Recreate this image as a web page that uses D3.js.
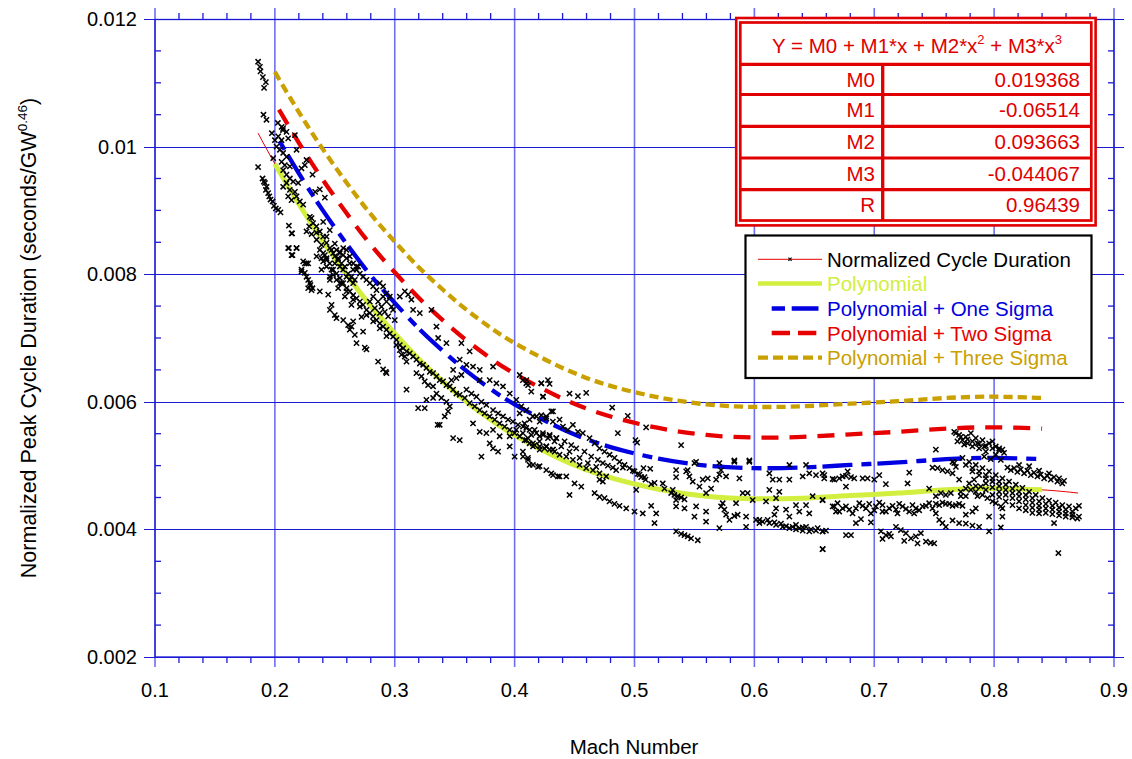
<!DOCTYPE html>
<html>
<head>
<meta charset="utf-8">
<script src="https://cdn.jsdelivr.net/npm/d3@7"></script>
<style>
body { margin: 0; background: #fff; }
svg { display: block; font-family: "Liberation Sans", Arial, sans-serif; }
</style>
</head>
<body>
<svg width="1132" height="759"></svg>
<script>
// tick values
var xTicks = [0.1, 0.2, 0.3, 0.4, 0.5, 0.6, 0.7, 0.8, 0.9];
var yTicks = [0.002, 0.004, 0.006, 0.008, 0.01, 0.012];

// fit table
var coefNames = ["M0", "M1", "M2", "M3", "R"];
var coefValues = ["0.019368", "-0.06514", "0.093663", "-0.044067", "0.96439"];

// red thin fit line over the whole data range
var fitMach = [0.186, 0.2, 0.22, 0.24, 0.26, 0.28, 0.30, 0.32, 0.34, 0.36, 0.38, 0.40, 0.44, 0.48, 0.52, 0.56, 0.60, 0.64, 0.68, 0.72, 0.76, 0.80, 0.84, 0.87];
var fitDur = [0.01021, 0.00973, 0.00910, 0.00852, 0.00799, 0.00750, 0.00707, 0.00667, 0.00632, 0.00600, 0.00572, 0.00548, 0.00509, 0.00481, 0.00463, 0.00452, 0.00448, 0.00449, 0.00453, 0.00457, 0.00462, 0.00464, 0.00462, 0.00457];

// polynomial and sigma curves
var curveMach = [0.2, 0.22, 0.24, 0.26, 0.28, 0.30, 0.32, 0.34, 0.36, 0.38, 0.40, 0.44, 0.48, 0.52, 0.56, 0.60, 0.64, 0.68, 0.72, 0.76, 0.80, 0.84];
var polyDur = [0.00973, 0.00910, 0.00852, 0.00799, 0.00750, 0.00707, 0.00667, 0.00632, 0.00600, 0.00572, 0.00548, 0.00509, 0.00481, 0.00463, 0.00452, 0.00448, 0.00449, 0.00453, 0.00457, 0.00462, 0.00464, 0.00462];
var sigma1Dur = [0.01021, 0.00958, 0.00900, 0.00847, 0.00798, 0.00755, 0.00715, 0.00680, 0.00648, 0.00620, 0.00596, 0.00557, 0.00529, 0.00511, 0.00500, 0.00496, 0.00497, 0.00501, 0.00505, 0.00510, 0.00512, 0.00510];
var sigma2Dur = [0.01069, 0.01006, 0.00948, 0.00895, 0.00846, 0.00803, 0.00763, 0.00728, 0.00696, 0.00668, 0.00644, 0.00605, 0.00577, 0.00559, 0.00548, 0.00544, 0.00545, 0.00549, 0.00553, 0.00558, 0.00560, 0.00558];
var sigma3Dur = [0.01117, 0.01054, 0.00996, 0.00943, 0.00894, 0.00851, 0.00811, 0.00776, 0.00744, 0.00716, 0.00692, 0.00653, 0.00625, 0.00607, 0.00596, 0.00592, 0.00593, 0.00597, 0.00601, 0.00606, 0.00608, 0.00606];

// measured points [mach, normalized duration]
var cyclePoints = [
  [0.186,0.01133],[0.1875,0.01125],[0.188,0.01118],[0.190,0.01109],[0.1925,0.01101],[0.191,0.01092],[0.1905,0.01050],[0.193,0.01042],[0.1975,0.01021],[0.2025,0.01037],[0.2067,0.01026],[0.186,0.00968],
  [0.1897,0.00950],[0.1908,0.00945],[0.1917,0.00943],[0.1931,0.00937],[0.1925,0.00932],[0.1944,0.00927],[0.1953,0.00922],[0.1964,0.00917],[0.1981,0.00914],[0.1992,0.00907],[0.2008,0.00903],[0.2028,0.00901],[0.2047,0.00897],
  [0.2056,0.01031],[0.2069,0.01029],[0.2097,0.01023],[0.2028,0.01016],[0.2,0.0101],[0.2056,0.0101],[0.2111,0.01013],[0.2167,0.01018],[0.2014,0.0100],[0.2042,0.00995],[0.2069,0.0099],[0.2097,0.00984],[0.1986,0.00982],[0.2056,0.00976],[0.2083,0.00971],[0.2125,0.00969],[0.2069,0.00963],[0.2097,0.00956],[0.2125,0.0095],[0.2153,0.00945],[0.2194,0.00943],[0.2097,0.00943],[0.2069,0.00937],[0.2125,0.00932],[0.2167,0.00929],[0.2181,0.00922],[0.2208,0.00914],[0.2236,0.00909],[0.2111,0.00922],[0.2139,0.00916],[0.225,0.00971],[0.2222,0.00966],[0.2264,0.00979],[0.2181,0.00995],[0.2314,0.00956],[0.2375,0.00933],[0.2336,0.00929],[0.2417,0.0092],[0.2403,0.00882],[0.2458,0.00869],[0.2306,0.00888],[0.2286,0.00875],[0.2264,0.00867],[0.2347,0.00865],[0.2117,0.00876],[0.2144,0.00864],[0.2117,0.00841],[0.2181,0.00841],[0.2147,0.0083],[0.2236,0.0082],[0.2264,0.00817],[0.2222,0.00807],[0.225,0.00802],[0.2278,0.00791],[0.2297,0.00783],[0.2314,0.00778],
  [0.2292,0.0089],[0.2319,0.0088],[0.2347,0.00875],[0.2375,0.00867],[0.2403,0.00859],[0.2431,0.00849],[0.2472,0.00838],[0.25,0.00828],[0.2528,0.00822],[0.2542,0.00812],[0.2569,0.00807],[0.2597,0.00796],[0.2625,0.00791],[0.2653,0.00786],[0.2681,0.00807],[0.2694,0.00812],[0.2653,0.00817],[0.2625,0.00828],[0.2597,0.00838],[0.2569,0.0083],[0.2542,0.00835],[0.25,0.00817],[0.2472,0.00807],[0.2458,0.00796],[0.2514,0.00791],[0.2556,0.00786],[0.2403,0.00833],[0.2431,0.00822],[0.2389,0.00825],[0.2458,0.00817],
  [0.2348,0.00854],[0.2389,0.00846],[0.2431,0.00859],[0.2459,0.00841],[0.25,0.00848],[0.2528,0.00825],[0.2556,0.00817],[0.2584,0.00812],[0.2611,0.00801],[0.2639,0.00796],[0.2667,0.00791],[0.2375,0.00838],[0.2417,0.0083],[0.2486,0.00833],[0.2348,0.00828],[0.2403,0.0082],
  [0.2431,0.00812],[0.2486,0.00799],[0.2542,0.00786],[0.2598,0.00773],[0.2653,0.0076],[0.2709,0.00749],[0.2764,0.00736],[0.282,0.00726],[0.2875,0.00715],[0.2931,0.00703],[0.2389,0.00807],[0.2459,0.00791],[0.2528,0.00778],[0.2584,0.00765],[0.2639,0.00752],[0.2723,0.00733],
  [0.2139,0.00864],[0.2111,0.00841],[0.2181,0.00841],[0.2139,0.0083],[0.2306,0.00863],[0.225,0.00817],[0.2278,0.00817],[0.2222,0.00804],[0.2264,0.00796],[0.2292,0.00786],[0.2278,0.00778],[0.2306,0.00775],[0.2375,0.00773],[0.2445,0.00768],[0.2473,0.00752],[0.2459,0.00744],[0.25,0.00736],[0.2514,0.00731],[0.257,0.00728],[0.2611,0.0072],[0.2639,0.00718],[0.2653,0.00726],[0.2625,0.00713],[0.2667,0.00705],[0.2736,0.0071],[0.2681,0.00692],[0.275,0.00685],[0.2764,0.00682],[0.2861,0.00663],[0.2903,0.00651],[0.2931,0.00645],[0.2925,0.00647],
  [0.2431,0.00825],[0.2486,0.00807],[0.2514,0.00801],[0.2542,0.00794],[0.257,0.00786],[0.2598,0.00778],[0.2625,0.00773],[0.2653,0.00767],[0.2681,0.00762],[0.2709,0.00757],[0.2736,0.00752],[0.2764,0.00744],[0.2792,0.00739],[0.282,0.00734],[0.2848,0.00728],[0.2875,0.00723],[0.2903,0.00718],[0.2931,0.00713],[0.2959,0.00707],[0.2986,0.00702],[0.3014,0.00697],[0.3042,0.00689],[0.307,0.00684],[0.3098,0.00679],[0.3125,0.00676],[0.3153,0.00671],[0.3181,0.00666],[0.3209,0.0066],[0.3237,0.00658],[0.3264,0.00653],[0.3292,0.00647],[0.332,0.00645],[0.3348,0.0064],[0.3375,0.00634],[0.3403,0.00632],[0.3431,0.00626],[0.3459,0.00624],[0.3487,0.00619],[0.3514,0.00613],
  [0.2514,0.00838],[0.2542,0.00833],[0.257,0.00841],[0.2598,0.00825],[0.2625,0.00817],[0.2653,0.00807],[0.2681,0.00812],[0.2709,0.00801],[0.2736,0.00796],[0.2764,0.00791],[0.2792,0.00786],[0.282,0.00781],[0.2848,0.00775],[0.2875,0.00786],[0.2903,0.00781],[0.2931,0.0077],[0.2959,0.00765],[0.2973,0.00749],[0.2986,0.00744],[0.3,0.00728],[0.3042,0.00765],[0.3084,0.00773],[0.3112,0.00768],[0.3139,0.0076],[0.3153,0.00744],[0.3209,0.00739],[0.3306,0.00744],[0.3348,0.00718],[0.3362,0.007],[0.3431,0.00692],[0.3556,0.00692],[0.3625,0.00679],[0.3542,0.00666],[0.3598,0.00658],[0.3653,0.00655],[0.3709,0.0065],[0.382,0.00655],[0.3487,0.0065],[0.3473,0.00634],[0.3514,0.00637],[0.3556,0.00642],[0.3709,0.00634],[0.3792,0.00634],[0.3848,0.00629],[0.3903,0.00624],[0.3959,0.00613],[0.4014,0.00603],[0.4042,0.00642],[0.4098,0.00634],[0.4112,0.00626],[0.4223,0.00629],[0.4278,0.00634],[0.4237,0.00608],[0.432,0.00585],[0.4264,0.00577],[0.4209,0.00569],[0.4153,0.00577],[0.4098,0.00587],[0.4056,0.00593],
  [0.282,0.00765],[0.2861,0.00757],[0.2889,0.00749],[0.2917,0.00741],[0.2945,0.00734],[0.2875,0.00739],[0.2834,0.00747],[0.2792,0.00757],[0.2903,0.00765],[0.2931,0.00757],
  [0.3014,0.00689],[0.3042,0.00681],[0.3056,0.00674],[0.3084,0.00671],[0.3098,0.00663],[0.3181,0.00645],[0.3223,0.0064],[0.325,0.00632],[0.3278,0.00626],[0.332,0.00624],[0.3348,0.00613],[0.3264,0.00603],[0.332,0.00606],[0.3389,0.00606],[0.3431,0.006],[0.3459,0.00593],[0.3445,0.00585],[0.3417,0.00577],[0.3375,0.00564],[0.3195,0.0059],[0.325,0.0059],[0.3098,0.00619],[0.3358,0.00564],[0.3487,0.00543],[0.3542,0.0054],[0.3653,0.00566],[0.3709,0.00553],[0.3764,0.00551],[0.3792,0.00535],[0.382,0.00527],[0.3862,0.00522],[0.3723,0.00514],[0.382,0.00556],[0.3875,0.00546],[0.3959,0.0053],[0.4,0.00514],[0.407,0.00514],[0.4112,0.00509],[0.4125,0.00501],[0.4195,0.00498],[0.4264,0.00493],[0.432,0.00485],[0.4375,0.00483],[0.3959,0.00546],[0.4014,0.00556],[0.4098,0.0054],[0.4153,0.0053],[0.4209,0.00525],[0.4264,0.0053],[0.432,0.00525],
  [0.3542,0.00611],[0.3584,0.00606],[0.3625,0.00598],[0.3667,0.00593],[0.3709,0.00587],[0.375,0.00582],[0.3792,0.00577],[0.3834,0.00572],[0.3875,0.00566],[0.3917,0.00561],[0.3959,0.00556],[0.4,0.00551],[0.4042,0.00546],[0.4084,0.0054],[0.4125,0.00535],[0.4167,0.00532],[0.4209,0.0053],[0.425,0.00527],[0.4292,0.00525],[0.4334,0.00522],[0.3598,0.00619],[0.364,0.00613],[0.3681,0.00608],[0.3723,0.006],[0.3764,0.00595],[0.382,0.00587],[0.3862,0.00582],[0.3903,0.00577],[0.3945,0.00572],[0.3986,0.00569],[0.4028,0.00564],[0.407,0.00561],[0.4125,0.00556],[0.4181,0.00551],[0.4237,0.00548],[0.4292,0.00546],[0.4348,0.00543],
  [0.4069,0.00634],[0.4097,0.00629],[0.4236,0.00608],[0.4139,0.00616],[0.4222,0.00629],[0.4292,0.00628],[0.4458,0.00613],[0.4528,0.00609],[0.4597,0.00614],[0.4042,0.00582],[0.4083,0.00566],[0.4125,0.00572],[0.4181,0.00577],[0.4222,0.00579],[0.4264,0.00574],[0.4306,0.00585],[0.4319,0.00569],[0.4375,0.00572],[0.4403,0.00561],[0.4444,0.00556],[0.4486,0.00564],[0.4528,0.00553],[0.4569,0.00551],[0.4625,0.00543],[0.4667,0.00535],[0.4708,0.00527],[0.475,0.00522],[0.4792,0.00517],[0.4833,0.00512],[0.4875,0.00506],[0.4917,0.00501],[0.4958,0.00496],[0.5,0.00491],[0.5042,0.00486],[0.5083,0.00482],
  [0.4097,0.00559],[0.4167,0.00556],[0.4236,0.00551],[0.4292,0.00548],[0.4347,0.00543],[0.4417,0.00538],[0.4472,0.00532],[0.4514,0.00527],[0.4583,0.00522],[0.4639,0.00514],[0.4694,0.00509],[0.4736,0.00504],[0.4778,0.005],[0.4819,0.00497],[0.4681,0.00498],[0.4611,0.00504],[0.4542,0.00512],[0.4458,0.00522],[0.4389,0.0053],[0.4333,0.00538],[0.4278,0.00543],[0.4208,0.00546],[0.4139,0.00548],
  [0.4069,0.00551],[0.4111,0.00543],[0.4153,0.00535],[0.4208,0.00538],[0.4264,0.0053],[0.4319,0.00525],[0.4375,0.00517],[0.4431,0.00514],[0.4486,0.00509],[0.4542,0.00501],[0.4597,0.00496],[0.4653,0.00493],[0.4708,0.00488],[0.4764,0.00483],[0.4069,0.00522],[0.4111,0.00512],[0.4153,0.00501],[0.4208,0.00499],[0.4306,0.00488],[0.4361,0.00483],[0.4431,0.00483],[0.4458,0.00454],[0.45,0.00472],[0.4556,0.00467],[0.4708,0.00478],[0.4736,0.00475],
  [0.4667,0.00457],[0.4708,0.00451],[0.475,0.00449],[0.4792,0.00444],[0.4833,0.0044],[0.4875,0.00437],[0.4931,0.00433],[0.5,0.00428],[0.5069,0.00425],
  [0.4847,0.00493],[0.4903,0.00497],[0.4986,0.00492],[0.5028,0.00487],[0.5056,0.00482],[0.5092,0.00478],[0.5139,0.00471],[0.5167,0.00473],[0.5075,0.00496],[0.5131,0.00495],[0.5008,0.0054],[0.5022,0.00536],[0.4944,0.00578],[0.4861,0.00551],[0.4814,0.00591],[0.5097,0.0056],[0.5389,0.00532],[0.5014,0.00462],[0.5236,0.00472],[0.525,0.00464],[0.5319,0.00462],[0.5347,0.00493],[0.5347,0.00482],[0.5431,0.00491],[0.5458,0.00483],[0.5444,0.00493],[0.55,0.00504],[0.5514,0.00506],[0.5486,0.00475],[0.5542,0.00467],[0.5569,0.00478],[0.5611,0.0048],[0.5597,0.00457],[0.5639,0.00464],[0.5681,0.00478],[0.5708,0.00486],[0.5764,0.00483],[0.5722,0.00493],[0.5708,0.00504],[0.5833,0.00506],[0.5875,0.0048],[0.5958,0.00506],[0.5903,0.00457],[0.5944,0.00457],
  [0.5306,0.00457],[0.5333,0.00454],[0.5361,0.00452],[0.5389,0.0045],[0.5417,0.00447],[0.5347,0.00446],
  [0.5139,0.00437],[0.5181,0.00425],[0.5167,0.0041],[0.5347,0.00436],[0.5417,0.00433],[0.5514,0.00436],[0.55,0.0042],[0.5597,0.00428],[0.5597,0.00412],[0.5708,0.00402],[0.5722,0.00436],[0.575,0.00431],[0.5764,0.00423],[0.5792,0.00415],[0.5833,0.00421],[0.5861,0.00423],[0.5931,0.0042],[0.5931,0.00404],[0.6042,0.00415],[0.5736,0.00441],[0.5847,0.00441],[0.5986,0.00446],[0.6097,0.00444],
  [0.5347,0.00397],[0.5389,0.00393],[0.5417,0.00391],[0.5444,0.00389],[0.5472,0.00386],[0.5528,0.00383],
  [0.6014,0.00415],[0.6069,0.00412],[0.6125,0.0041],[0.6181,0.00407],[0.6236,0.00404],[0.6292,0.00402],[0.6347,0.004],[0.6403,0.00398],[0.6458,0.00397],[0.6514,0.00398],[0.657,0.00397],[0.6431,0.00404],[0.6375,0.00402],[0.657,0.00369],
  [0.6042,0.0041],[0.6111,0.00415],[0.6167,0.00411],[0.6222,0.00409],[0.6264,0.00405],[0.6319,0.00404],[0.6347,0.00407],[0.6403,0.00403],[0.6472,0.004],[0.6528,0.00402],[0.6597,0.00398],
  [0.6125,0.00488],[0.6153,0.00478],[0.6208,0.00478],[0.6292,0.00478],[0.6125,0.00462],[0.6208,0.00459],[0.6181,0.00449],[0.6181,0.00433],[0.6264,0.00431],[0.6347,0.00438],[0.6431,0.00438],[0.6403,0.00483],[0.6458,0.00488],[0.6514,0.00485],[0.6569,0.00488],[0.6653,0.00479],[0.6583,0.0048],[0.6486,0.00452],[0.6569,0.00446],[0.6653,0.00436],[0.6681,0.00428],[0.6292,0.0042],[0.6167,0.00423],[0.6375,0.00428],[0.6458,0.00425],[0.6292,0.00501],[0.6431,0.00501],[0.5958,0.00508],[0.5833,0.00508],
  [0.6667,0.00478],[0.6708,0.0048],[0.6736,0.00483],[0.6764,0.00484],[0.6806,0.00482],[0.6833,0.0048],[0.6778,0.00491],[0.6764,0.00467],[0.6583,0.00485],[0.6569,0.00446],[0.6903,0.0048],[0.6944,0.0048],[0.7,0.00478],[0.7042,0.00485],[0.7097,0.00471],[0.7278,0.00472],[0.7292,0.00489],
  [0.6667,0.00436],[0.6708,0.00428],[0.6764,0.00436],[0.6819,0.00425],[0.6875,0.00441],[0.6931,0.00433],[0.6972,0.00425],[0.7014,0.00436],[0.7069,0.00438],[0.7125,0.00433],[0.7181,0.00431],[0.7236,0.00436],[0.7292,0.00428],[0.7347,0.00433],[0.7403,0.00436],[0.7458,0.00441],[0.7514,0.0044],[0.7569,0.00442],[0.7625,0.0044],[0.7681,0.00438],[0.7736,0.00437],[0.7514,0.00425],[0.7542,0.00415],[0.7569,0.0041],[0.7597,0.00404],[0.7653,0.00414],[0.7708,0.0041],[0.7764,0.00409],[0.7819,0.00406],[0.7875,0.00404],[0.7958,0.0042],[0.8069,0.0042],[0.8056,0.00403],[0.7958,0.00397],[0.7764,0.00423],[0.7819,0.00428],[0.7847,0.00433],[0.6847,0.0041],[0.6889,0.00416],[0.6972,0.00411],
  [0.6694,0.00441],[0.6736,0.00433],[0.6792,0.00431],[0.6847,0.00433],[0.6903,0.00437],[0.6958,0.0044],[0.7,0.0043],[0.7042,0.00442],[0.7097,0.00428],[0.7153,0.00437],[0.7208,0.0044],[0.7264,0.00432],[0.7319,0.00438],[0.7375,0.0043],[0.7431,0.00437],[0.7486,0.00433],[0.7542,0.00438],[0.7597,0.0044],[0.7653,0.00437],[0.7708,0.0044],[0.7069,0.00428],[0.7194,0.00425],[0.7333,0.00425],
  [0.7056,0.00397],[0.7097,0.00391],[0.7139,0.00389],[0.7181,0.00404],[0.7222,0.00399],[0.7264,0.00394],[0.7306,0.00386],[0.7347,0.00389],[0.7389,0.00394],[0.7431,0.00381],[0.7472,0.00379],[0.75,0.00378],[0.7069,0.00385],[0.7125,0.00393],[0.725,0.00382],[0.7361,0.00378],
  [0.6764,0.00391],[0.6806,0.00391],[0.6569,0.00369],[0.6569,0.00397],[0.85,0.0041],[0.8536,0.00363],
  [0.7486,0.00497],[0.7528,0.00496],[0.7569,0.00493],[0.7611,0.00491],[0.7653,0.00488],[0.7681,0.00498],[0.7667,0.00504],[0.7514,0.00525],[0.7514,0.00452],[0.7556,0.00457],[0.7597,0.00454],[0.7639,0.00457],[0.7708,0.00478],[0.7722,0.00459],[0.7764,0.00452],[0.7458,0.00464],[0.7833,0.00478],
  [0.7667,0.00553],[0.7708,0.00548],[0.7764,0.00545],[0.7806,0.00551],[0.7847,0.00543],[0.7903,0.0054],[0.7958,0.00535],[0.8014,0.0053],[0.8069,0.00525],[0.7694,0.00538],[0.775,0.00533],[0.7819,0.0053],[0.7875,0.00527],[0.7931,0.00522],[0.7986,0.00538],[0.8042,0.00527],[0.7736,0.0054],[0.7778,0.00535],[0.7861,0.00535],[0.7917,0.0053],
  [0.7681,0.00551],[0.7722,0.00545],[0.7778,0.00541],[0.7819,0.00538],[0.7875,0.00534],[0.7931,0.00531],[0.7986,0.00527],[0.8042,0.00524],[0.8083,0.0052],
  [0.7736,0.00512],[0.7792,0.00506],[0.7847,0.00501],[0.7903,0.00496],[0.7958,0.00491],[0.8014,0.00485],[0.8069,0.0048],[0.8125,0.00475],[0.8181,0.0047],[0.8236,0.00465],[0.8292,0.00459],[0.8347,0.00454],[0.8403,0.00449],[0.8458,0.00445],[0.8514,0.00442],[0.8569,0.00438],[0.8625,0.00436],[0.8681,0.00433],[0.8708,0.00437],
  [0.7764,0.00501],[0.7819,0.00496],[0.7875,0.00491],[0.7931,0.00485],[0.7986,0.0048],[0.8042,0.00475],[0.8097,0.0047],[0.8153,0.00464],[0.8208,0.00459],[0.8264,0.00454],[0.8319,0.00449],[0.8375,0.00444],[0.8431,0.0044],[0.8486,0.00437],[0.8542,0.00434],[0.8597,0.00431],[0.8653,0.00428],
  [0.7819,0.00491],[0.7875,0.00485],[0.7931,0.0048],[0.7986,0.00475],[0.8042,0.00468],[0.8097,0.00462],[0.8153,0.00457],[0.8208,0.00452],[0.8264,0.00447],[0.8319,0.00442],[0.8375,0.00437],[0.8431,0.00433],[0.8486,0.00431],[0.8542,0.00428],[0.8597,0.00425],[0.8653,0.00423],[0.8708,0.0042],
  [0.7931,0.00472],[0.7986,0.00466],[0.8042,0.00459],[0.8097,0.00454],[0.8153,0.00449],[0.8208,0.00444],[0.8264,0.00438],[0.8319,0.00434],[0.8375,0.00431],[0.8431,0.00426],[0.8486,0.00424],[0.8542,0.00422],[0.8597,0.0042],[0.8653,0.00419],[0.8694,0.00417],
  [0.8111,0.00497],[0.8167,0.00496],[0.8222,0.00494],[0.8278,0.00492],[0.8333,0.00489],[0.8389,0.00486],[0.8444,0.00484],[0.85,0.00482],[0.8542,0.0048],[0.8583,0.00476],[0.8208,0.00501],[0.8292,0.00499],[0.8375,0.00492],[0.8458,0.00488],
  [0.8139,0.00493],[0.8194,0.0049],[0.825,0.00488],[0.8306,0.00485],[0.8361,0.00483],[0.8417,0.0048],[0.8472,0.00478],[0.8528,0.00475],[0.8569,0.00472],
  [0.7889,0.00467],[0.7931,0.00462],[0.7986,0.00454],[0.8042,0.00451],[0.8097,0.00444],[0.8153,0.00438],[0.8208,0.00433],[0.8264,0.0043],[0.8319,0.00426],[0.8375,0.00425],[0.8014,0.00441],[0.8069,0.00433],[0.7903,0.00454],[0.7847,0.00459],[0.8056,0.00436],
  [0.7792,0.00472],[0.7847,0.00468],[0.7806,0.00462],[0.7861,0.00452],[0.7944,0.00449],[0.7986,0.00444],[0.7764,0.00464],[0.7722,0.00452],
  [0.7917,0.00514],[0.7972,0.0051],[0.8014,0.00517],[0.8056,0.00509],[0.7653,0.00506]
];

var legendNames = ["Normalized Cycle Duration", "Polynomial", "Polynomial + One Sigma", "Polynomial + Two Sigma", "Polynomial + Three Sigma"];

var gridBlue = "#1a1ad6";
var green = "#d2ee3e", blue = "#0000e0", red = "#e60000", gold = "#c9a000", tableRed = "#e00000";

var svg = d3.select("svg");
var x = d3.scaleLinear().domain([0.1, 0.9]).range([155, 1114]);
var y = d3.scaleLinear().domain([0.002, 0.012]).range([657, 19]);

// grid lines (they run a little past the frame)
svg.append("g").selectAll("line").data(xTicks).enter().append("line")
  .attr("x1", function(d) { return x(d); }).attr("x2", function(d) { return x(d); })
  .attr("y1", 8).attr("y2", 667)
  .style("stroke", "#6f6fee").style("stroke-width", 1.6);
svg.append("g").selectAll("line").data(yTicks).enter().append("line")
  .attr("x1", 144).attr("x2", 1124)
  .attr("y1", function(d) { return Math.round(y(d)) + 0.5; }).attr("y2", function(d) { return Math.round(y(d)) + 0.5; })
  .style("stroke", gridBlue).style("stroke-width", 1.1);

svg.append("rect").attr("x", 155).attr("y", 19.5).attr("width", 959).attr("height", 637.5)
  .style("fill", "none").style("stroke", gridBlue).style("stroke-width", 1.3);

// minor ticks
var xMinor = d3.range(0, 41).map(function(i) { return 0.1 + i * 0.02; }).filter(function(v, i) { return i % 5 != 0; });
var yMinor = d3.range(0, 21).map(function(i) { return 0.002 + i * 0.0005; }).filter(function(v, i) { return i % 4 != 0; });

var ticks = svg.append("g").style("stroke", gridBlue).style("stroke-width", 1.3);
xMinor.forEach(function(v) {
  ticks.append("line").attr("x1", x(v)).attr("x2", x(v)).attr("y1", 657).attr("y2", 663);
  ticks.append("line").attr("x1", x(v)).attr("x2", x(v)).attr("y1", 19).attr("y2", 13);
});
yMinor.forEach(function(v) {
  ticks.append("line").attr("x1", 155).attr("x2", 161).attr("y1", y(v)).attr("y2", y(v));
  ticks.append("line").attr("x1", 1114).attr("x2", 1108).attr("y1", y(v)).attr("y2", y(v));
});

// tick labels
svg.append("g").selectAll("text").data(xTicks).enter().append("text")
  .attr("x", function(d) { return x(d); }).attr("y", 697)
  .attr("text-anchor", "middle").style("font-size", "20px")
  .text(function(d) { return d3.format(".1f")(d); });
svg.append("g").selectAll("text").data(yTicks).enter().append("text")
  .attr("x", 137).attr("y", function(d) { return y(d) + 7; })
  .attr("text-anchor", "end").style("font-size", "20px")
  .text(function(d) { return String(d); });

svg.append("text").attr("x", 634).attr("y", 754).attr("text-anchor", "middle")
  .style("font-size", "20.5px").text("Mach Number");

var ylab = svg.append("text").attr("transform", "translate(36,338) rotate(-90)")
  .attr("text-anchor", "middle").style("font-size", "21.5px");
ylab.append("tspan").text("Normalized Peak Cycle Duration (seconds/GW");
ylab.append("tspan").attr("dy", -9).style("font-size", "13.5px").text("0.46");
ylab.append("tspan").attr("dy", 9).text(")");

// curves
var line = d3.line()
  .x(function(d) { return x(d[0]); })
  .y(function(d) { return y(d[1]); })
  .curve(d3.curveNatural);

function pairs(xs, ys) { return xs.map(function(v, i) { return [v, ys[i]]; }); }

svg.append("path").datum(pairs(fitMach, fitDur)).attr("d", line)
  .style("fill", "none").style("stroke", red).style("stroke-width", 1);
svg.append("path").datum(pairs(curveMach, polyDur)).attr("d", line)
  .style("fill", "none").style("stroke", green).style("stroke-width", 5);
svg.append("path").datum(pairs(curveMach, sigma1Dur)).attr("d", line)
  .style("fill", "none").style("stroke", blue).style("stroke-width", 4.3)
  .style("stroke-dasharray", "30,9,10,6").style("stroke-dashoffset", 30);
svg.append("path").datum(pairs(curveMach, sigma2Dur)).attr("d", line)
  .style("fill", "none").style("stroke", red).style("stroke-width", 4.3)
  .style("stroke-dasharray", "17,11").style("stroke-dashoffset", 20);
svg.append("path").datum(pairs(curveMach, sigma3Dur)).attr("d", line)
  .style("fill", "none").style("stroke", gold).style("stroke-width", 4.3)
  .style("stroke-dasharray", "9.2,5");

// points
var cross = "M-2.6,-2.6L2.6,2.6M-2.6,2.6L2.6,-2.6";
svg.append("g").selectAll("path").data(cyclePoints).enter().append("path")
  .attr("d", cross)
  .attr("transform", function(d) { return "translate(" + x(d[0]) + "," + y(d[1]) + ")"; })
  .style("stroke", "#000").style("stroke-width", 1.5).style("fill", "none");

// fit table
var tbl = svg.append("g");
tbl.append("rect").attr("x", 736.2).attr("y", 18).attr("width", 359.4).attr("height", 207.4)
  .style("fill", "#fff").style("stroke", tableRed).style("stroke-width", 2.6);
tbl.append("rect").attr("x", 740.3).attr("y", 22.5).attr("width", 351).attr("height", 198)
  .style("fill", "none").style("stroke", tableRed).style("stroke-width", 2.7);
var rowLines = [64.3, 94.5, 126.3, 158, 189.7];
rowLines.forEach(function(r) {
  tbl.append("line").attr("x1", 740).attr("x2", 1091.5).attr("y1", r).attr("y2", r)
    .style("stroke", tableRed).style("stroke-width", 3.2);
});
tbl.append("line").attr("x1", 882.7).attr("x2", 882.7).attr("y1", 64.3).attr("y2", 221)
  .style("stroke", tableRed).style("stroke-width", 3.3);
var head = tbl.append("text").attr("x", 917).attr("y", 53).attr("text-anchor", "middle")
  .style("font-size", "20.5px").style("fill", tableRed);
head.append("tspan").text("Y = M0 + M1*x + M2*x");
head.append("tspan").attr("dy", -9).style("font-size", "13px").text("2");
head.append("tspan").attr("dy", 9).text(" + M3*x");
head.append("tspan").attr("dy", -9).style("font-size", "13px").text("3");
coefNames.forEach(function(n, i) {
  tbl.append("text").attr("x", 875).attr("y", rowLines[i] + 22.5).attr("text-anchor", "end")
    .style("font-size", "20.5px").style("fill", tableRed).text(n);
  tbl.append("text").attr("x", 1080).attr("y", rowLines[i] + 22.5).attr("text-anchor", "end")
    .style("font-size", "20.5px").style("fill", tableRed).text(coefValues[i]);
});

// legend
var leg = svg.append("g");
leg.append("rect").attr("x", 745.5).attr("y", 235.5).attr("width", 346).attr("height", 142.5)
  .style("fill", "#fff").style("stroke", "#000").style("stroke-width", 2.2);
var legY = [259.3, 283.6, 308.5, 333, 357.6];
var legColors = ["#000", green, blue, red, gold];
legendNames.forEach(function(n, i) {
  leg.append("text").attr("x", 827).attr("y", legY[i] + 7.5)
    .style("font-size", "20.5px").style("fill", legColors[i]).text(n);
});
leg.append("line").attr("x1", 758).attr("x2", 822).attr("y1", legY[0]).attr("y2", legY[0])
  .style("stroke", red).style("stroke-width", 1);
leg.append("path").attr("d", "M-1.6,-1.6L1.6,1.6M-1.6,1.6L1.6,-1.6")
  .attr("transform", "translate(790," + legY[0] + ")")
  .style("stroke", "#000").style("stroke-width", 1.1);
leg.append("line").attr("x1", 758).attr("x2", 822).attr("y1", legY[1]).attr("y2", legY[1])
  .style("stroke", green).style("stroke-width", 4.5);
leg.append("line").attr("x1", 771.7).attr("x2", 818.5).attr("y1", legY[2]).attr("y2", legY[2])
  .style("stroke", blue).style("stroke-width", 4.3).style("stroke-dasharray", "13.3,6.7,27");
leg.append("line").attr("x1", 771.7).attr("x2", 818.5).attr("y1", legY[3]).attr("y2", legY[3])
  .style("stroke", red).style("stroke-width", 4.3).style("stroke-dasharray", "18.3,8");
leg.append("line").attr("x1", 758).attr("x2", 822).attr("y1", legY[4]).attr("y2", legY[4])
  .style("stroke", gold).style("stroke-width", 4.3).style("stroke-dasharray", "10,5");
</script>
</body>
</html>
